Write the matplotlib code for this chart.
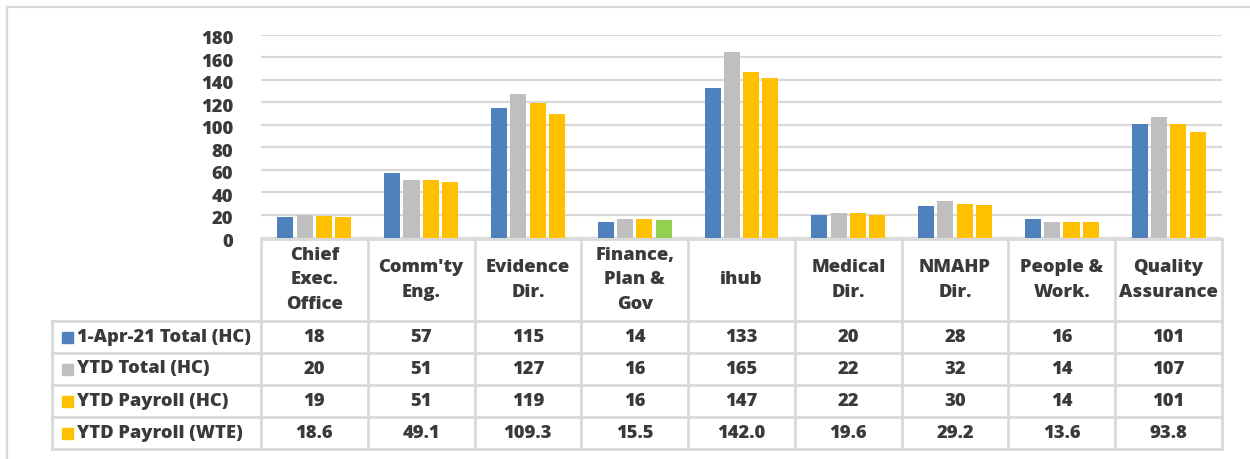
import numpy as np
import matplotlib
matplotlib.use("Agg")
import matplotlib.pyplot as plt
import matplotlib.transforms as mtransforms
from matplotlib.patches import Rectangle

# ---------------- data ----------------
categories = ["Chief\nExec.\nOffice", "Comm'ty\nEng.", "Evidence\nDir.", "Finance,\nPlan &\nGov",
              "ihub", "Medical\nDir.", "NMAHP\nDir.", "People &\nWork.", "Quality\nAssurance"]
series_names = ["1-Apr-21 Total (HC)", "YTD Total (HC)", "YTD Payroll (HC)", "YTD Payroll (WTE)"]
apr_total_hc = [18, 57, 115, 14, 133, 20, 28, 16, 101]
ytd_total_hc = [20, 51, 127, 16, 165, 22, 32, 14, 107]
ytd_payroll_hc = [19, 51, 119, 16, 147, 22, 30, 14, 101]
ytd_payroll_wte = [18.6, 49.1, 109.3, 15.5, 142.0, 19.6, 29.2, 13.6, 93.8]
series = [apr_total_hc, ytd_total_hc, ytd_payroll_hc, ytd_payroll_wte]
value_formats = ["{:.0f}", "{:.0f}", "{:.0f}", "{:.1f}"]
yticks = list(range(0, 181, 20))

colors = ["#4F81BD", "#BFBFBF", "#FFC000", "#FFC000"]
odd_color = "#92D050"   # Finance WTE bar is green in the original

# ---------------- layout (pixels) ----------------
W, H = 1250, 459
plt.rcParams['font.family'] = ['Open Sans', 'DejaVu Sans']
txt_col = "#3A3A3A"
line_col = "#D9D9D9"
fs = 13.2

fig = plt.figure(figsize=(W / 100, H / 100), dpi=100)

x_left, x_right = 261, 1222
y_top, y_zero = 34.7, 237.5
tbl_left = 52
hdr_top = 239
hdr_bot = 321
row_h = 32

ax = fig.add_axes([x_left / W, 1 - y_zero / H, (x_right - x_left) / W, (y_zero - y_top) / H])
ax.set_xlim(0, len(categories))
ax.set_ylim(0, 180)

n = len(categories)
x = np.arange(n) + 0.5
bw = 0.15
pitch = 0.181
for k, vals in enumerate(series):
    cols = [colors[k]] * n
    if k == 3:
        cols[3] = odd_color
    ax.bar(x + (k - 1.5) * pitch, vals, width=bw, color=cols, zorder=3)

ax.set_yticks(yticks)
ax.set_yticklabels([str(t) for t in yticks], fontsize=fs, fontweight='heavy', color=txt_col)
ax.tick_params(axis='y', length=0, pad=20)
shift = mtransforms.ScaledTranslation(0, -3 / 100, fig.dpi_scale_trans)
for lab in ax.get_yticklabels():
    lab.set_transform(lab.get_transform() + shift)
ax.set_xticks([])
ax.grid(axis='y', color=line_col, linewidth=1.6, zorder=0)
for s in ax.spines.values():
    s.set_visible(False)

# ---------------- data table ----------------
tab = fig.add_axes([0, 0, 1, 1])
tab.set_xlim(0, W)
tab.set_ylim(H, 0)
tab.axis('off')

col_w = (x_right - x_left) / n
col_edges = [x_left + i * col_w for i in range(n + 1)]
row_edges = [hdr_bot + i * row_h for i in range(len(series) + 1)]
lw = 2

# outer chart frame
tab.plot([7, W], [7, 7], color=line_col, lw=1.6)
tab.plot([7, 7], [7, H], color=line_col, lw=1.6)

tab.plot([x_left, x_right], [hdr_top, hdr_top], color=line_col, lw=lw)
for ry in row_edges:
    tab.plot([tbl_left, x_right], [ry, ry], color=line_col, lw=lw)
for cx in col_edges:
    tab.plot([cx, cx], [hdr_top, row_edges[-1]], color=line_col, lw=lw)
tab.plot([tbl_left, tbl_left], [hdr_bot, row_edges[-1]], color=line_col, lw=lw)

for i, cat in enumerate(categories):
    cx = (col_edges[i] + col_edges[i + 1]) / 2
    tab.text(cx, (hdr_top + hdr_bot) / 2, cat, ha='center', va='center', fontsize=fs,
             fontweight='heavy', color=txt_col, linespacing=1.55)

for k, name in enumerate(series_names):
    cy = (row_edges[k] + row_edges[k + 1]) / 2
    tab.add_patch(Rectangle((62, cy - 5.5), 11, 11, color=colors[k]))
    tab.text(77, cy, name, ha='left', va='center', fontsize=fs, fontweight='heavy', color=txt_col)
    for i, v in enumerate(series[k]):
        cx = (col_edges[i] + col_edges[i + 1]) / 2
        tab.text(cx, cy, value_formats[k].format(v), ha='center', va='center', fontsize=fs,
                 fontweight='heavy', color=txt_col)

fig.savefig("out.png", dpi=100)
